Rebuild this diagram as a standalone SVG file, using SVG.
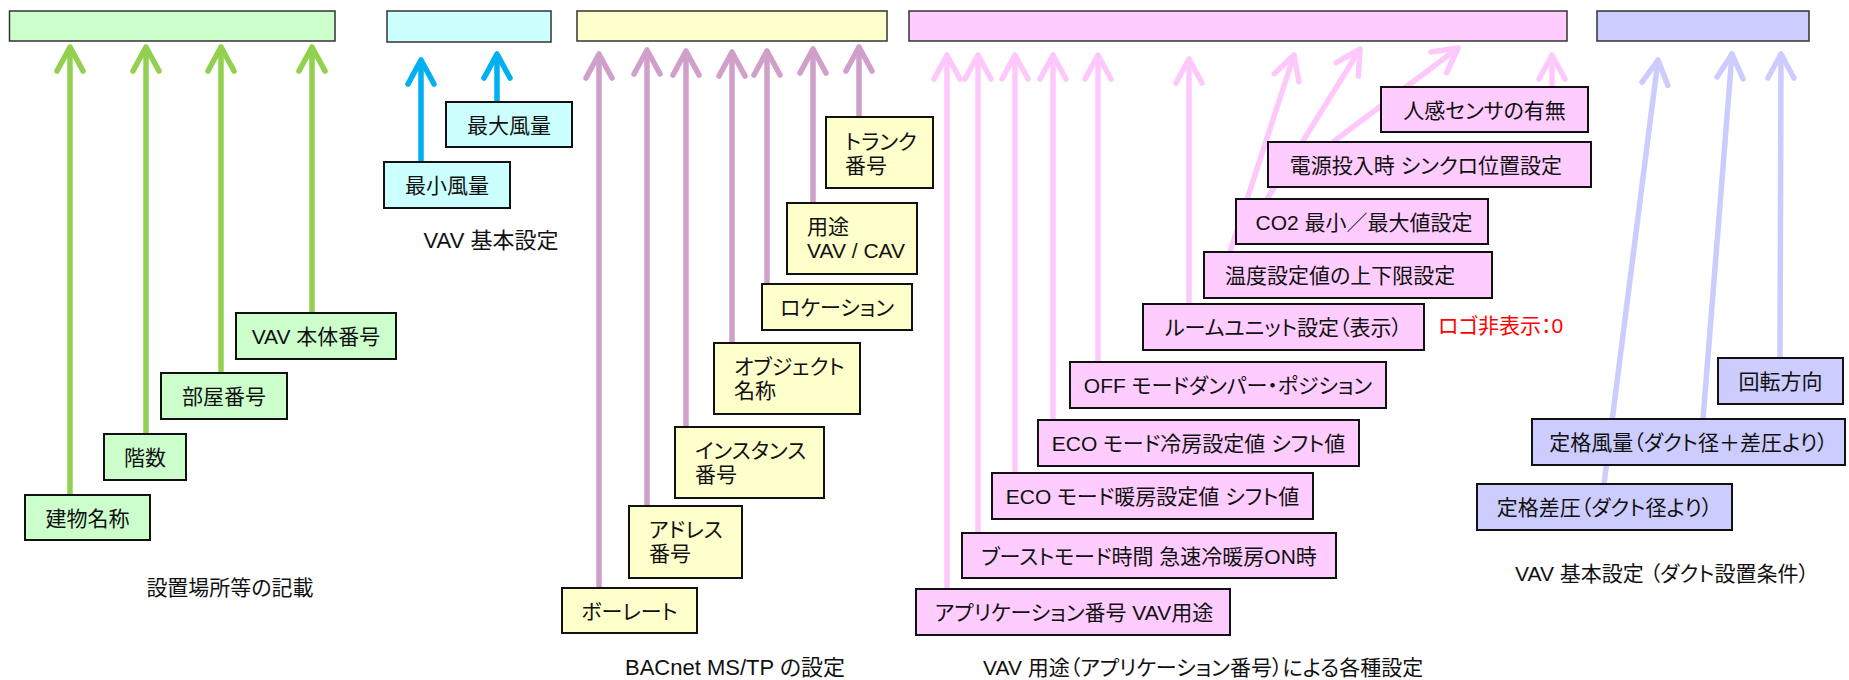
<svg xmlns="http://www.w3.org/2000/svg" width="1849" height="680" viewBox="0 0 1849 680">
<style>
.bar{stroke:#333;stroke-width:1.5}
.box{stroke:#111;stroke-width:2}
.g{fill:#CCFFCC}.c{fill:#CCFFFF}.y{fill:#FFFFCC}.p{fill:#FFCCFF}.b{fill:#CCCCFF}
text{font-family:"Liberation Sans","Noto Sans CJK JP",sans-serif;font-size:21px;fill:#111;font-feature-settings:"palt"}
.m{text-anchor:middle}
.big{font-size:22px}
.red{fill:#FF0000}
.ln{fill:none;stroke-width:5.5;stroke-linecap:butt}
.lg{stroke:#92D050}.lc{stroke:#00B0F0}.lp{stroke:#D0A0CA}.lk{stroke:#FFC8FC}.lb{stroke:#CCCCFF}
</style>
<defs>
<marker id="ag" viewBox="-30 -18 36 36" markerWidth="36" markerHeight="36" refX="0" refY="0" markerUnits="userSpaceOnUse" orient="auto"><path d="M-24,-13 L0,0 L-24,13" fill="none" stroke="#92D050" stroke-width="5.5" stroke-linecap="round" stroke-linejoin="round"/></marker>
<marker id="ac" viewBox="-30 -18 36 36" markerWidth="36" markerHeight="36" refX="0" refY="0" markerUnits="userSpaceOnUse" orient="auto"><path d="M-24,-13 L0,0 L-24,13" fill="none" stroke="#00B0F0" stroke-width="5.5" stroke-linecap="round" stroke-linejoin="round"/></marker>
<marker id="ap" viewBox="-30 -18 36 36" markerWidth="36" markerHeight="36" refX="0" refY="0" markerUnits="userSpaceOnUse" orient="auto"><path d="M-24,-13 L0,0 L-24,13" fill="none" stroke="#D0A0CA" stroke-width="5.5" stroke-linecap="round" stroke-linejoin="round"/></marker>
<marker id="ak" viewBox="-30 -18 36 36" markerWidth="36" markerHeight="36" refX="0" refY="0" markerUnits="userSpaceOnUse" orient="auto"><path d="M-24,-13 L0,0 L-24,13" fill="none" stroke="#FFC8FC" stroke-width="5.5" stroke-linecap="round" stroke-linejoin="round"/></marker>
<marker id="ab" viewBox="-30 -18 36 36" markerWidth="36" markerHeight="36" refX="0" refY="0" markerUnits="userSpaceOnUse" orient="auto"><path d="M-24,-13 L0,0 L-24,13" fill="none" stroke="#CCCCFF" stroke-width="5.5" stroke-linecap="round" stroke-linejoin="round"/></marker>
</defs>
<rect width="1849" height="680" fill="#FFFFFF"/>

<g id="connectors">
<g class="ln lg" marker-end="url(#ag)">
<line x1="70" y1="495" x2="70" y2="47"/>
<line x1="146" y1="434" x2="146" y2="47"/>
<line x1="221" y1="373" x2="221" y2="47"/>
<line x1="312" y1="313" x2="312" y2="47"/>
</g>
<g class="ln lc" marker-end="url(#ac)">
<line x1="421" y1="162" x2="421" y2="60"/>
<line x1="497" y1="102" x2="497" y2="54"/>
</g>
<g class="ln lp" marker-end="url(#ap)">
<line x1="599" y1="588" x2="599" y2="54"/>
<line x1="647" y1="506" x2="647" y2="50"/>
<line x1="686" y1="427" x2="686" y2="51"/>
<line x1="732" y1="343" x2="732" y2="52"/>
<line x1="767" y1="284" x2="767" y2="51"/>
<line x1="813" y1="203" x2="813" y2="49"/>
<line x1="859" y1="117" x2="859" y2="47"/>
</g>
<g class="ln lk" marker-end="url(#ak)">
<line x1="947" y1="589" x2="947" y2="55"/>
<line x1="978" y1="533" x2="978" y2="55"/>
<line x1="1015" y1="473" x2="1015" y2="55"/>
<line x1="1053" y1="420" x2="1053" y2="55"/>
<line x1="1098" y1="362" x2="1098" y2="55"/>
<line x1="1189" y1="304" x2="1189" y2="59"/>
<line x1="1230" y1="252" x2="1294" y2="55"/>
<line x1="1267" y1="199" x2="1360" y2="49"/>
<line x1="1333" y1="142" x2="1458" y2="48"/>
<line x1="1552" y1="87" x2="1552" y2="55"/>
</g>
<g class="ln lb" marker-end="url(#ab)">
<line x1="1604" y1="484" x2="1658" y2="60"/>
<line x1="1703" y1="419" x2="1732" y2="54"/>
<line x1="1780" y1="358" x2="1781" y2="54"/>
</g>
</g>

<g id="bar-green"><rect class="bar g" x="9.5" y="11" width="325.5" height="30"/></g>
<g id="bar-cyan"><rect class="bar c" x="387" y="11" width="164" height="31"/></g>
<g id="bar-yellow"><rect class="bar y" x="577" y="11" width="310" height="30"/></g>
<g id="bar-pink"><rect class="bar p" x="909" y="11" width="658" height="30"/></g>
<g id="bar-blue"><rect class="bar b" x="1597" y="11" width="212" height="30"/></g>

<g id="n-building"><rect class="box g" x="25" y="495" width="125" height="45"/><text class="m" x="87.5" y="526">建物名称</text></g>
<g id="n-floor"><rect class="box g" x="104" y="434" width="82" height="46"/><text class="m" x="145" y="465">階数</text></g>
<g id="n-room"><rect class="box g" x="161" y="373" width="126" height="46"/><text class="m" x="224" y="404">部屋番号</text></g>
<g id="n-vavno"><rect class="box g" x="236" y="313" width="160" height="46"/><text class="m" x="316" y="344">VAV 本体番号</text></g>

<g id="n-maxflow"><rect class="box c" x="446" y="102" width="126" height="45"/><text class="m" x="509" y="133">最大風量</text></g>
<g id="n-minflow"><rect class="box c" x="384" y="162" width="126" height="46"/><text class="m" x="447" y="193">最小風量</text></g>

<g id="n-trunk"><rect class="box y" x="826" y="117" width="107" height="71"/><text x="845" y="149">トランク</text><text x="845" y="173">番号</text></g>
<g id="n-use"><rect class="box y" x="787" y="203" width="130" height="71"/><text x="807" y="234">用途</text><text x="807" y="258">VAV / CAV</text></g>
<g id="n-location"><rect class="box y" x="762" y="284" width="150" height="46"/><text class="m" x="837" y="315">ロケーション</text></g>
<g id="n-object"><rect class="box y" x="714" y="343" width="146" height="71"/><text x="734" y="374">オブジェクト</text><text x="734" y="398">名称</text></g>
<g id="n-instance"><rect class="box y" x="675" y="427" width="149" height="71"/><text x="695" y="458">インスタンス</text><text x="695" y="482">番号</text></g>
<g id="n-address"><rect class="box y" x="629" y="506" width="113" height="72"/><text x="649" y="537">アドレス</text><text x="649" y="561">番号</text></g>
<g id="n-baud"><rect class="box y" x="562" y="588" width="135" height="45"/><text class="m" x="629.5" y="619">ボーレート</text></g>

<g id="n-motion"><rect class="box p" x="1381" y="87" width="207" height="45"/><text class="m" x="1484.5" y="118">人感センサの有無</text></g>
<g id="n-power"><rect class="box p" x="1268" y="142" width="323" height="45"/><text class="m" x="1426" y="173">電源投入時 シンクロ位置設定</text></g>
<g id="n-co2"><rect class="box p" x="1236" y="199" width="252" height="45"/><text class="m" x="1364" y="230">CO2 最小／最大値設定</text></g>
<g id="n-temp"><rect class="box p" x="1204" y="252" width="288" height="46"/><text x="1225" y="283">温度設定値の上下限設定</text></g>
<g id="n-roomunit"><rect class="box p" x="1143" y="304" width="281" height="46"/><text class="m" x="1283.5" y="335">ルームユニット設定（表示）</text></g>
<g id="n-logo"><text class="red" x="1438" y="333">ロゴ非表示：0</text></g>
<g id="n-off"><rect class="box p" x="1070" y="362" width="316" height="46"/><text class="m" x="1228" y="393">OFF モードダンパー・ポジション</text></g>
<g id="n-ecocool"><rect class="box p" x="1038" y="420" width="321" height="46"/><text class="m" x="1198.5" y="451">ECO モード冷房設定値 シフト値</text></g>
<g id="n-ecoheat"><rect class="box p" x="992" y="473" width="321" height="46"/><text class="m" x="1152.5" y="504">ECO モード暖房設定値 シフト値</text></g>
<g id="n-boost"><rect class="box p" x="962" y="533" width="374" height="45"/><text class="m" x="1149" y="564">ブーストモード時間 急速冷暖房ON時</text></g>
<g id="n-app"><rect class="box p" x="916" y="589" width="314" height="46"/><text class="m" x="1074" y="620">アプリケーション番号 VAV用途</text></g>

<g id="n-rotation"><rect class="box b" x="1718" y="358" width="125" height="46"/><text class="m" x="1780.5" y="389">回転方向</text></g>
<g id="n-ratedflow"><rect class="box b" x="1532" y="419" width="313" height="46"/><text class="m" x="1688.5" y="450">定格風量（ダクト径＋差圧より）</text></g>
<g id="n-ratedpress"><rect class="box b" x="1477" y="484" width="255" height="46"/><text class="m" x="1604.5" y="515">定格差圧（ダクト径より）</text></g>

<g id="captions">
<text class="m" x="230" y="595">設置場所等の記載</text>
<text class="m big" x="491" y="248">VAV 基本設定</text>
<text class="m big" x="735" y="675">BACnet MS/TP の設定</text>
<text x="983" y="675">VAV 用途（アプリケーション番号）による各種設定</text>
<text class="m" x="1662" y="581">VAV 基本設定 （ダクト設置条件）</text>
</g>
</svg>
